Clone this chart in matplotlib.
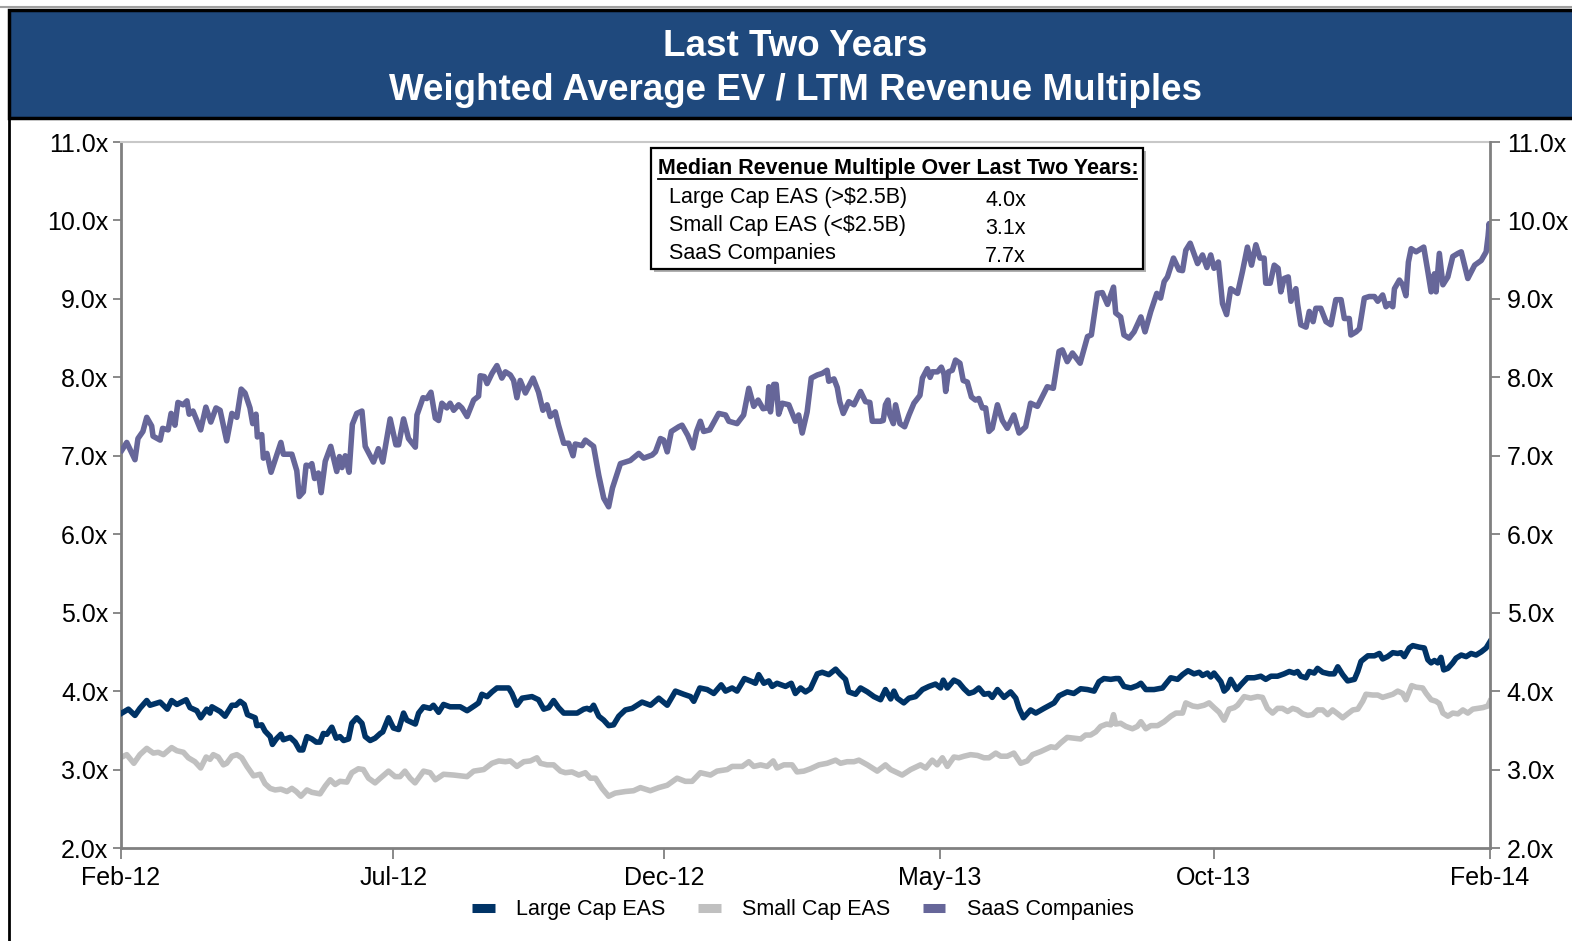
import matplotlib
matplotlib.use("Agg")
import matplotlib.pyplot as plt
from matplotlib.patches import Rectangle
from matplotlib.lines import Line2D

plt.rcParams['font.family'] = ['Liberation Sans', 'DejaVu Sans']

# ---------------- data (x = trading-day index over the two years) ----------------
saas_days = [0.3, 2.1, 5.1, 6.2, 8.0, 9.4, 11.2, 11.7, 14.3, 15.2, 17.2, 18.3, 19.7, 20.8, 22.7, 24.1, 24.9, 26.3,
             29.1, 31.0, 32.8, 34.7, 36.2, 38.6, 40.5, 42.3, 43.9, 45.3, 47.1, 48.1, 49.3, 49.8, 51.4, 52.0, 53.3,
             54.8, 56.5, 58.4, 59.3, 62.4, 64.2, 65.1, 66.6, 67.6, 69.1, 69.7, 70.7, 72.1, 73.1, 74.6, 76.6, 78.8,
             79.8, 80.7, 81.9, 83.3, 84.5, 86.1, 88.0, 89.2, 92.2, 94.0, 95.6, 98.3, 100.4, 101.4, 103.2, 105.0,
             107.5, 108.1, 110.3, 111.7, 113.2, 114.8, 116.0, 117.2, 119.0, 120.2, 121.5, 123.3, 124.5, 126.4,
             128.8, 130.6, 131.2, 132.7, 133.7, 135.5, 137.3, 139.1, 140.4, 142.2, 143.4, 144.6, 145.8, 147.7,
             150.5, 152.5, 154.1, 155.6, 156.8, 158.6, 159.8, 161.7, 163.5, 165.1, 165.9, 168.4, 169.6, 172.6,
             174.5, 176.3, 178.1, 179.5, 182.4, 186.0, 189.1, 190.9, 194.0, 195.2, 197.0, 198.2, 199.5, 201.0,
             203.7, 204.9, 207.0, 208.9, 210.2, 211.6, 212.8, 215.0, 218.3, 220.8, 222.0, 225.0, 227.4, 229.3,
             231.1, 232.7, 234.5, 236.0, 236.6, 237.2, 238.4, 239.3, 240.2, 241.5, 243.9, 246.3, 247.5, 248.8,
             250.6, 252.1, 254.3, 256.1, 257.9, 258.5, 260.4, 261.6, 262.5, 263.8, 265.8, 267.7, 270.1, 271.9,
             273.5, 274.4, 275.6, 277.4, 278.4, 279.2, 280.1, 280.8, 282.1, 282.9, 284.5, 286.2, 287.8, 289.6,
             291.8, 292.7, 294.5, 295.5, 296.3, 298.2, 299.6, 300.6, 301.2, 302.2, 303.6, 304.8, 306.4, 307.6,
             309.1, 310.6, 312.1, 313.3, 314.6, 315.8, 317.0, 318.2, 320.1, 321.9, 323.7, 326.1, 328.0, 330.4,
             332.2, 334.7, 338.3, 340.5, 342.6, 343.8, 345.6, 347.5, 350.3, 353.0, 354.4, 356.6, 358.4, 360.3,
             362.5, 363.3, 365.1, 366.3, 368.2, 370.0, 372.5, 374.0, 376.1, 378.3, 379.7, 381.0, 382.2, 384.4,
             386.4, 387.7, 388.9, 390.5, 393.2, 395.0, 396.6, 398.0, 399.2, 400.8, 402.3, 403.8, 405.3, 407.8,
             409.6, 411.4, 412.9, 414.5, 416.0, 417.5, 418.1, 419.7, 421.2, 422.6, 423.6, 424.8, 426.3, 427.3,
             429.1, 429.7, 430.9, 432.8, 434.0, 435.4, 436.4, 438.2, 440.1, 441.9, 443.7, 445.6, 446.8, 448.6,
             449.2, 451.1, 452.3, 454.1, 455.9, 457.8, 459.0, 460.8, 462.0, 463.2, 464.5, 465.1, 466.9, 468.1,
             469.3, 470.2, 471.2, 473.0, 475.8, 477.3, 478.5, 479.7, 480.3, 481.5, 482.8, 484.6, 486.4, 488.3,
             489.5, 491.9, 494.4, 496.8, 498.6, 499.3, 499.7, 500.0]
saas_vals = [7.07, 7.17, 6.95, 7.22, 7.31, 7.49, 7.38, 7.25, 7.20, 7.35, 7.33, 7.54, 7.39, 7.68, 7.65, 7.70, 7.53, 7.57,
             7.33, 7.62, 7.43, 7.61, 7.58, 7.19, 7.54, 7.49, 7.85, 7.80, 7.61, 7.41, 7.53, 7.24, 7.27, 6.97, 7.03,
             6.79, 6.97, 7.17, 7.02, 7.02, 6.81, 6.48, 6.54, 6.88, 6.87, 6.90, 6.71, 6.78, 6.53, 6.93, 7.12, 6.80,
             6.99, 6.85, 7.00, 6.79, 7.40, 7.54, 7.57, 7.12, 6.92, 7.09, 6.92, 7.47, 7.14, 7.14, 7.47, 7.22,
             7.11, 7.52, 7.74, 7.73, 7.81, 7.48, 7.45, 7.67, 7.61, 7.67, 7.58, 7.65, 7.61, 7.50,
             7.71, 7.76, 8.02, 8.01, 7.92, 8.05, 8.15, 7.99, 8.07, 8.03, 7.96, 7.74, 7.96, 7.80,
             7.99, 7.81, 7.58, 7.65, 7.50, 7.56, 7.39, 7.16, 7.16, 7.00, 7.15, 7.13, 7.20, 7.12,
             6.75, 6.46, 6.35, 6.59, 6.90, 6.94, 7.03, 6.97, 7.01, 7.05, 7.22, 7.20, 7.05, 7.31,
             7.37, 7.39, 7.26, 7.10, 7.31, 7.44, 7.31, 7.33, 7.54, 7.52, 7.44, 7.41, 7.52, 7.86,
             7.63, 7.71, 7.60, 7.61, 7.88, 7.56, 7.91, 7.91, 7.53, 7.67, 7.65, 7.44, 7.52, 7.29,
             7.56, 7.99, 8.03, 8.05, 8.09, 7.95, 7.98, 7.87, 7.69, 7.54, 7.69, 7.65, 7.82, 7.69,
             7.68, 7.44, 7.44, 7.44, 7.45, 7.65, 7.71, 7.52, 7.41, 7.65, 7.41, 7.37, 7.52, 7.67,
             7.77, 7.99, 8.11, 8.00, 8.07, 8.07, 8.13, 8.04, 7.82, 8.07, 8.09, 8.22, 8.18, 7.96,
             7.94, 7.75, 7.71, 7.73, 7.61, 7.61, 7.31, 7.35, 7.65, 7.45, 7.35, 7.52, 7.29, 7.37,
             7.67, 7.63, 7.88, 7.86, 8.33, 8.35, 8.20, 8.31, 8.18, 8.52, 8.54, 9.07, 9.08, 8.93,
             9.15, 8.82, 8.77, 8.54, 8.50, 8.58, 8.77, 8.58, 8.84, 9.07, 9.01, 9.22, 9.28, 9.52,
             9.37, 9.36, 9.62, 9.71, 9.45, 9.56, 9.40, 9.56, 9.39, 9.47, 8.94, 8.80, 9.13, 9.07,
             9.35, 9.66, 9.43, 9.69, 9.52, 9.52, 9.20, 9.20, 9.43, 9.39, 9.09, 9.26, 9.28, 8.97,
             9.13, 8.94, 8.67, 8.64, 8.84, 8.71, 8.88, 8.88, 8.71, 8.67, 8.99, 8.99, 8.75, 8.75,
             8.54, 8.58, 8.62, 9.01, 9.03, 9.03, 8.97, 9.05, 8.90, 8.94, 8.90, 9.13, 9.24, 9.18,
             9.04, 9.47, 9.64, 9.60, 9.66, 9.35, 9.09, 9.32, 9.09, 9.58, 9.18, 9.28, 9.54, 9.58,
             9.60, 9.26, 9.43, 9.49, 9.60, 9.80, 9.96, 9.65]

large_days = [0.3, 2.7, 5.1, 6.9, 9.4, 10.6, 14.3, 16.9, 18.5, 20.4, 23.8, 25.2, 27.7, 29.1, 31.3, 32.5, 33.2, 34.7,
              36.2, 38.0, 40.5, 42.0, 43.5, 45.0, 46.2, 49.0, 49.6, 51.4, 52.6, 54.5, 55.3, 56.7, 58.4, 59.3, 61.8,
              63.6, 65.2, 66.4, 67.9, 69.7, 71.3, 72.7, 73.9, 75.2, 77.0, 78.6, 80.0, 81.3, 83.1, 84.3, 86.1, 88.0,
              89.2, 91.0, 92.8, 94.7, 95.6, 97.7, 99.5, 101.4, 103.2, 104.4, 107.5, 108.7, 110.5, 112.9, 114.1,
              116.0, 117.8, 120.2, 123.9, 126.4, 129.4, 130.6, 131.8, 133.7, 135.5, 137.3, 139.7, 141.6, 142.8,
              144.6, 146.5, 150.1, 152.5, 154.4, 156.2, 158.0, 159.8, 161.7, 166.6, 169.0, 170.2, 171.4, 172.6,
              174.5, 176.3, 178.1, 179.9, 181.8, 184.2, 186.7, 190.3, 193.4, 196.4, 199.5, 202.5, 205.5, 208.0,
              209.2, 211.4, 214.1, 216.5, 219.2, 220.8, 223.2, 225.0, 227.7, 230.5, 231.7, 232.9, 234.8, 236.6,
              237.8, 239.6, 242.7, 244.8, 246.3, 248.2, 250.0, 251.8, 254.3, 256.1, 258.5, 261.0, 262.8, 264.6,
              265.8, 268.3, 270.1, 272.6, 275.0, 277.4, 279.2, 281.1, 282.3, 283.5, 285.9, 287.8, 290.2, 292.7,
              295.1, 297.5, 299.3, 300.3, 301.8, 304.2, 306.0, 307.9, 309.7, 311.5, 313.3, 315.2, 317.0, 318.2,
              320.1, 322.5, 324.9, 326.8, 328.0, 329.6, 332.2, 334.1, 337.1, 340.8, 342.6, 345.6, 348.0, 350.5,
              353.0, 355.4, 357.2, 359.0, 361.5, 363.3, 364.5, 366.3, 368.8, 371.2, 372.5, 374.3, 377.3, 380.4,
              383.4, 385.9, 387.7, 389.7, 391.9, 393.8, 395.0, 396.8, 398.0, 399.2, 401.7, 402.9, 404.1, 405.3,
              407.5, 409.0, 411.4, 413.9, 416.3, 418.1, 420.0, 422.4, 424.8, 426.7, 428.5, 429.7, 430.9, 432.8,
              434.0, 435.8, 437.0, 438.9, 441.3, 443.1, 444.4, 446.2, 448.0, 450.5, 451.7, 452.9, 455.4, 457.8,
              459.6, 460.8, 462.6, 464.5, 466.3, 467.5, 468.7, 470.5, 471.8, 474.2, 476.0, 477.3, 478.5, 479.7,
              480.9, 482.1, 483.1, 484.6, 486.4, 487.6, 489.5, 491.3, 493.1, 494.9, 496.8, 498.6, 500.0]
large_vals = [3.72, 3.77, 3.69, 3.78, 3.88, 3.82, 3.86, 3.77, 3.88, 3.83, 3.89, 3.79, 3.75, 3.66, 3.77, 3.72, 3.80, 3.77,
              3.74, 3.68, 3.82, 3.82, 3.87, 3.83, 3.70, 3.66, 3.56, 3.57, 3.49, 3.42, 3.32, 3.39, 3.45, 3.38, 3.41,
              3.35, 3.25, 3.25, 3.42, 3.39, 3.35, 3.35, 3.46, 3.45, 3.54, 3.40, 3.42, 3.37, 3.39, 3.59, 3.66, 3.59,
              3.42, 3.37, 3.40, 3.46, 3.48, 3.66, 3.53, 3.51, 3.72, 3.63, 3.58, 3.72, 3.80, 3.78, 3.82,
              3.73, 3.83, 3.80, 3.80, 3.75, 3.82, 3.85, 3.96, 3.93, 3.99, 4.04, 4.04, 4.04, 3.97,
              3.82, 3.91, 3.93, 3.89, 3.77, 3.79, 3.88, 3.79, 3.72, 3.72, 3.77, 3.78, 3.76, 3.82,
              3.68, 3.63, 3.56, 3.57, 3.68, 3.76, 3.78, 3.86, 3.82, 3.91, 3.82, 4.00, 3.96, 3.93,
              3.87, 4.04, 4.02, 3.97, 4.08, 4.00, 4.04, 4.00, 4.16, 4.12, 4.10, 4.21, 4.10, 4.13,
              4.06, 4.10, 4.06, 4.10, 3.97, 4.04, 3.99, 4.03, 4.22, 4.24, 4.21, 4.28, 4.21, 4.15,
              3.99, 3.96, 4.04, 3.99, 3.93, 3.89, 4.02, 3.90, 4.00, 3.91, 3.85, 3.91, 3.93, 4.02,
              4.06, 4.09, 4.04, 4.14, 4.04, 4.14, 4.11, 4.03, 3.97, 3.99, 4.04, 3.96, 3.97, 3.92,
              4.02, 3.92, 3.99, 3.91, 3.78, 3.66, 3.76, 3.72, 3.78, 3.85, 3.94, 3.99, 3.97, 4.03,
              4.02, 4.00, 4.12, 4.16, 4.15, 4.16, 4.16, 4.06, 4.04, 4.07, 4.10, 4.02, 4.02, 4.04,
              4.17, 4.15, 4.21, 4.26, 4.22, 4.24, 4.20, 4.23, 4.18, 4.23, 4.12, 4.00, 4.04, 4.15,
              4.02, 4.08, 4.17, 4.17, 4.19, 4.15, 4.19, 4.19, 4.22, 4.25, 4.23, 4.25, 4.19, 4.17,
              4.25, 4.23, 4.29, 4.24, 4.22, 4.22, 4.31, 4.21, 4.13, 4.15, 4.25, 4.38, 4.45, 4.45,
              4.48, 4.41, 4.44, 4.49, 4.48, 4.49, 4.44, 4.55, 4.58, 4.56, 4.55, 4.40, 4.36, 4.39,
              4.36, 4.43, 4.27, 4.29, 4.36, 4.42, 4.46, 4.44, 4.48, 4.46, 4.50, 4.55, 4.63]

small_days = [0.3, 2.1, 4.7, 6.9, 9.4, 11.8, 13.6, 15.5, 18.5, 20.4, 22.8, 24.6, 27.0, 29.1, 31.1, 32.5, 33.7, 35.5,
              37.4, 38.6, 40.5, 42.3, 44.1, 46.0, 48.4, 50.8, 52.6, 54.5, 56.3, 58.4, 60.6, 62.4, 64.0, 65.7, 67.9,
              69.7, 72.7, 74.6, 76.4, 78.2, 80.0, 82.5, 84.3, 86.7, 88.5, 90.4, 92.8, 94.7, 97.7, 100.1, 101.9,
              103.7, 105.6, 107.4, 110.5, 112.9, 114.8, 117.8, 121.5, 126.4, 128.8, 132.5, 135.5, 138.0, 140.4,
              142.2, 144.6, 147.1, 149.5, 151.9, 153.2, 155.6, 158.0, 160.5, 162.3, 164.7, 167.2, 169.6, 171.4,
              173.3, 175.7, 178.1, 180.5, 184.2, 187.2, 189.7, 193.3, 196.4, 199.5, 203.1, 206.1, 208.6, 211.6,
              215.3, 217.7, 221.4, 223.2, 226.9, 229.3, 231.1, 233.6, 236.0, 238.2, 239.6, 242.1, 245.1, 246.9,
              249.4, 251.8, 254.9, 257.9, 261.0, 262.8, 265.2, 267.7, 269.5, 272.6, 276.2, 279.2, 281.1, 282.9,
              285.3, 288.4, 292.0, 293.9, 296.3, 298.1, 300.0, 301.8, 304.2, 306.0, 307.9, 310.3, 312.8, 315.2,
              317.0, 319.5, 321.3, 323.7, 326.1, 328.6, 331.0, 332.9, 335.9, 339.6, 341.4, 343.2, 345.6, 348.0,
              350.5, 352.3, 354.1, 356.0, 357.8, 360.0, 361.5, 362.5, 363.3, 365.1, 367.0, 369.4, 371.2, 372.5,
              374.3, 376.1, 378.6, 381.0, 383.4, 385.3, 387.7, 388.9, 391.4, 393.2, 395.6, 397.4, 399.2, 401.1,
              402.9, 404.7, 406.6, 407.8, 410.2, 412.6, 415.1, 416.9, 418.7, 420.6, 422.4, 424.2, 426.1, 427.9,
              429.7, 431.6, 433.4, 435.2, 437.0, 438.9, 440.7, 442.5, 444.4, 446.2, 448.0, 449.9, 451.7, 453.5,
              454.7, 457.2, 459.0, 460.8, 462.6, 464.5, 466.3, 468.1, 469.3, 471.4, 473.0, 475.4, 476.7, 478.5,
              480.3, 481.5, 482.8, 484.6, 486.4, 488.3, 490.1, 491.9, 493.7, 495.6, 497.4, 499.2, 500.0]
small_vals = [3.16, 3.19, 3.08, 3.19, 3.27, 3.21, 3.22, 3.19, 3.28, 3.24, 3.22, 3.15, 3.10, 3.02, 3.16, 3.13, 3.19, 3.16,
              3.06, 3.08, 3.17, 3.19, 3.15, 3.04, 2.92, 2.94, 2.82, 2.76, 2.74, 2.75, 2.72, 2.76, 2.72, 2.66, 2.74,
              2.71, 2.69, 2.79, 2.87, 2.81, 2.85, 2.84, 2.96, 3.01, 3.00, 2.89, 2.83, 2.89, 2.98, 2.91, 2.91,
              2.98, 2.89, 2.83, 2.98, 2.96, 2.87, 2.94, 2.93, 2.91, 2.98, 3.00, 3.08, 3.11, 3.10,
              3.11, 3.04, 3.10, 3.11, 3.15, 3.08, 3.06, 3.06, 2.98, 2.96, 2.97, 2.93, 2.96, 2.89,
              2.89, 2.76, 2.66, 2.70, 2.72, 2.73, 2.77, 2.73, 2.77, 2.80, 2.89, 2.85, 2.85, 2.96,
              2.93, 2.98, 3.00, 3.04, 3.04, 3.10, 3.04, 3.06, 3.04, 3.11, 3.02, 3.06, 3.06, 2.97,
              2.98, 3.01, 3.06, 3.08, 3.12, 3.08, 3.10, 3.10, 3.12, 3.06, 2.98, 3.06, 3.00, 2.97,
              2.93, 3.00, 3.06, 3.02, 3.12, 3.06, 3.15, 3.04, 3.16, 3.15, 3.17, 3.19, 3.18, 3.15,
              3.15, 3.21, 3.17, 3.17, 3.21, 3.08, 3.11, 3.19, 3.23, 3.29, 3.28, 3.34, 3.41, 3.40,
              3.39, 3.44, 3.44, 3.48, 3.55, 3.58, 3.57, 3.70, 3.58, 3.59, 3.55, 3.52, 3.55, 3.61,
              3.52, 3.56, 3.56, 3.61, 3.68, 3.72, 3.72, 3.85, 3.81, 3.80, 3.82, 3.85, 3.79, 3.73,
              3.63, 3.77, 3.79, 3.82, 3.93, 3.91, 3.93, 3.92, 3.78, 3.72, 3.78, 3.78, 3.74, 3.78,
              3.76, 3.71, 3.69, 3.70, 3.76, 3.76, 3.70, 3.76, 3.71, 3.66, 3.71, 3.76, 3.77, 3.87,
              3.96, 3.95, 3.95, 3.92, 3.94, 3.96, 4.00, 3.97, 3.89, 4.07, 4.05, 4.04, 3.97, 3.89,
              3.87, 3.84, 3.72, 3.68, 3.72, 3.71, 3.76, 3.72, 3.77, 3.78, 3.79, 3.81, 3.87]

tick_days = [0, 99.4, 198.5, 299.0, 399.1, 500]
tick_labels = ["Feb-12", "Jul-12", "Dec-12", "May-13", "Oct-13", "Feb-14"]
y_ticks = [2, 3, 4, 5, 6, 7, 8, 9, 10, 11]

series_names = ["Large Cap EAS", "Small Cap EAS", "SaaS Companies"]
series_colors = ["#003366", "#C0C0C0", "#666699"]

title_lines = ["Last Two Years", "Weighted Average EV / LTM Revenue Multiples"]
box_title = "Median Revenue Multiple Over Last Two Years:"
box_rows = ["Large Cap EAS (>$2.5B)", "Small Cap EAS (<$2.5B)", "SaaS Companies"]
box_values = ["4.0x", "3.1x", "7.7x"]

# ---------------- figure ----------------
W, H = 1572, 941
fig = plt.figure(figsize=(W / 100, H / 100), dpi=100)
fig.patch.set_facecolor("white")


def fx(px):
    return px / W


def fy(py):
    return 1 - py / H


ax = fig.add_axes([fx(121), fy(848), fx(1490) - fx(121), fy(142) - fy(848)])
lw = 4.0
ax.plot(large_days, large_vals, color=series_colors[0], lw=lw, solid_joinstyle="round", zorder=3)
ax.plot(small_days, small_vals, color=series_colors[1], lw=lw, solid_joinstyle="round", zorder=2)
ax.plot(saas_days, saas_vals, color=series_colors[2], lw=lw, solid_joinstyle="round", zorder=3)

ax.set_xlim(0, 500)
ax.set_ylim(2, 11)
ax.set_xticks(tick_days)
ax.set_xticklabels(tick_labels)
ax.set_yticks(y_ticks)
ax.set_yticklabels([f"{v:.1f}x" for v in y_ticks])

spine_col = "#808080"
ax.spines["right"].set_visible(False)
ax.spines["top"].set_color("#C8C8C8")
ax.spines["top"].set_linewidth(1.5)
for s in ["left", "bottom"]:
    ax.spines[s].set_color(spine_col)
    ax.spines[s].set_linewidth(2)
ax.tick_params(axis="both", direction="out", length=6, width=1.3, color=spine_col,
               labelsize=18, labelcolor="black")
ax.tick_params(axis="x", pad=5, length=8)
ax.tick_params(axis="y", pad=3)

ax2 = ax.twinx()
ax2.set_ylim(2, 11)
ax2.set_yticks(y_ticks)
ax2.set_yticklabels([f"{v:.1f}x" for v in y_ticks])
for s in ["top", "left", "bottom"]:
    ax2.spines[s].set_visible(False)
ax2.spines["right"].set_color(spine_col)
ax2.spines["right"].set_linewidth(2)
ax2.tick_params(axis="y", direction="out", length=7, width=1.3, color=spine_col,
                labelsize=18, labelcolor="black", pad=5)

# legend
handles = [Line2D([], [], color=c, lw=6.5, solid_capstyle="butt") for c in series_colors]
fig.legend(handles, series_names, loc="center", bbox_to_anchor=(fx(803), fy(910)), ncol=3,
           frameon=False, fontsize=15.5, handlelength=1.05, handletextpad=1.0, columnspacing=1.5)

# ---------------- banner & frame ----------------
fig.add_artist(Line2D([fx(0), fx(W)], [fy(7), fy(7)], color="#A0A0A0", lw=1.5))
fig.add_artist(Rectangle((fx(9), fy(118)), fx(W + 20) - fx(9), fy(10) - fy(118),
                         facecolor="#1F497D", edgecolor="black", lw=2.5, transform=fig.transFigure))
fig.add_artist(Line2D([fx(9), fx(9)], [fy(118), fy(H + 5)], color="black", lw=2))
fig.text(fx(795), fy(46), title_lines[0], color="white", fontsize=26.5, fontweight="bold",
         ha="center", va="center")
fig.text(fx(795), fy(91), title_lines[1], color="white", fontsize=26.5, fontweight="bold",
         ha="center", va="center")

# ---------------- summary box ----------------
fig.add_artist(Rectangle((fx(654), fy(272)), fx(1146) - fx(654), fy(151) - fy(272),
                         facecolor="#B0B0B0", edgecolor="none", transform=fig.transFigure, zorder=4))
fig.add_artist(Rectangle((fx(651), fy(269)), fx(1143) - fx(651), fy(148) - fy(269),
                         facecolor="white", edgecolor="black", lw=1.6, transform=fig.transFigure, zorder=5))
fig.text(fx(658), fy(169), box_title, fontsize=15.5, fontweight="bold", ha="left", va="center", zorder=6)
fig.add_artist(Line2D([fx(658), fx(1137)], [fy(179), fy(179)], color="black", lw=1.3, zorder=6))
row_y = [197, 226, 254]
for lbl, val, yy in zip(box_rows, box_values, row_y):
    fig.text(fx(669), fy(yy), lbl, fontsize=15.5, ha="left", va="center", zorder=6)
    fig.text(fx(985), fy(yy + 3), val, fontsize=15.5, ha="left", va="center", zorder=6)

fig.savefig("out.png", dpi=100)
